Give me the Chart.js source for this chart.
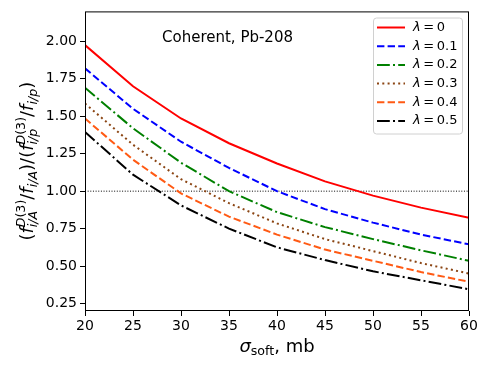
<!DOCTYPE html>
<html>
<head>
<meta charset="utf-8">
<script src="https://cdn.jsdelivr.net/npm/chart.js@4.4.0/dist/chart.umd.min.js"></script>
<style>
  html, body { margin: 0; padding: 0; background: #fff; }
  #wrap { width: 490px; height: 368px; }
</style>
</head>
<body>
<div id="wrap"><canvas id="chart" width="490" height="368"></canvas></div>
<script>
const sigmaSoft = [20, 25, 30, 35, 40, 45, 50, 55, 60];
const lambda00 = [1.975, 1.70, 1.485, 1.32, 1.185, 1.065, 0.97, 0.89, 0.822];
const lambda01 = [1.82, 1.55, 1.33, 1.155, 1.00, 0.88, 0.79, 0.71, 0.645];
const lambda02 = [1.69, 1.42, 1.19, 1.00, 0.86, 0.76, 0.68, 0.605, 0.535];
const lambda03 = [1.585, 1.31, 1.08, 0.92, 0.785, 0.68, 0.60, 0.52, 0.45];
const lambda04 = [1.485, 1.21, 0.985, 0.83, 0.71, 0.61, 0.535, 0.46, 0.395];
const lambda05 = [1.395, 1.11, 0.905, 0.75, 0.625, 0.54, 0.465, 0.405, 0.345];
const lambdaLabels = ['0', '0.1', '0.2', '0.3', '0.4', '0.5'];
const refLevel = [1.0, 1.0];
const refX = [20, 60];
const yTicks = [0.25, 0.50, 0.75, 1.00, 1.25, 1.50, 1.75, 2.00];
const xTicks = [20, 25, 30, 35, 40, 45, 50, 55, 60];
const noteText = 'Coherent, Pb-208';

const FONT = '"DejaVu Sans", "Noto Sans", sans-serif';

const seriesStyle = [
  { color: '#ff0000', dash: [] },
  { color: '#0000ff', dash: [7.4, 3.2] },
  { color: '#008000', dash: [12.8, 3.2, 2, 3.2] },
  { color: '#8b4513', dash: [2, 3.3] },
  { color: '#ff5a14', dash: [7.4, 3.2] },
  { color: '#000000', dash: [12.8, 3.2, 2, 3.2] },
];

const allSeries = [lambda00, lambda01, lambda02, lambda03, lambda04, lambda05];

function toPoints(xs, ys) {
  return xs.map((x, i) => ({ x, y: ys[i] }));
}

const datasets = allSeries.map((values, i) => ({
  label: lambdaLabels[i],
  data: toPoints(sigmaSoft, values),
  borderColor: seriesStyle[i].color,
  borderDash: seriesStyle[i].dash,
  borderWidth: 2,
  borderCapStyle: 'butt',
  pointRadius: 0,
  tension: 0,
  fill: false,
}));

datasets.push({
  label: 'ref',
  data: toPoints(refX, refLevel),
  borderColor: '#000000',
  borderDash: [1, 1.65],
  borderWidth: 1,
  pointRadius: 0,
  fill: false,
});

// small mathtext-like renderer: pieces are {t, it} or {sup:[...], sub:[...]}
function drawRun(ctx, run, x, y, size, draw) {
  const x0 = x;
  run.forEach((p) => {
    if (p.t !== undefined) {
      ctx.font = `${p.it ? 'italic ' : ''}${size}px ${FONT}`;
      if (draw) ctx.fillText(p.t, x, y);
      x += ctx.measureText(p.t).width;
    } else {
      const s = size * 0.7;
      const w1 = p.sup ? drawRun(ctx, p.sup, x, y - size * 0.45, s, draw) : 0;
      const w2 = p.sub ? drawRun(ctx, p.sub, x, y + size * 0.22, s, draw) : 0;
      x += Math.max(w1, w2);
    }
  });
  return x - x0;
}

const supD3 = [{ t: 'D', it: true }, { t: '(3)' }];
const yTitle = [
  { t: '(' }, { t: 'f', it: true }, { sup: supD3, sub: [{ t: 'i/A', it: true }] },
  { t: '/' }, { t: 'f', it: true }, { sub: [{ t: 'i/A', it: true }] }, { t: ')' },
  { t: '/' },
  { t: '(' }, { t: 'f', it: true }, { sup: supD3, sub: [{ t: 'i/p', it: true }] },
  { t: '/' }, { t: 'f', it: true }, { sub: [{ t: 'i/p', it: true }] }, { t: ')' },
];
const xTitle = [
  { t: '\u03c3', it: true }, { sub: [{ t: 'soft' }] }, { t: ', mb' },
];

const decorPlugin = {
  id: 'decor',
  afterDraw(chart) {
    const ctx = chart.ctx;
    const a = chart.chartArea;
    ctx.save();
    ctx.fillStyle = '#000';
    ctx.textBaseline = 'alphabetic';
    ctx.textAlign = 'left';

    // frame
    ctx.strokeStyle = '#000';
    ctx.lineWidth = 1;
    ctx.setLineDash([]);
    ctx.strokeRect(a.left + 0.5, a.top + 0.5, a.right - a.left - 1, a.bottom - a.top - 1);

    // annotation
    ctx.font = `15px ${FONT}`;
    ctx.fillText(noteText, 162, 41.5);

    // x title
    const xs = 18;
    const xw = drawRun(ctx, xTitle, 0, 0, xs, false);
    drawRun(ctx, xTitle, (a.left + a.right) / 2 - xw / 2, 351.5, xs, true);

    // y title
    const ys = 18;
    const yw = drawRun(ctx, yTitle, 0, 0, ys, false);
    ctx.save();
    ctx.translate(33, (a.top + a.bottom) / 2);
    ctx.rotate(-Math.PI / 2);
    drawRun(ctx, yTitle, -yw / 2, 0, ys, true);
    ctx.restore();

    // legend
    const bx = 373.5, by = 18, bw = 89, bh = 116, r = 3;
    ctx.beginPath();
    ctx.moveTo(bx + r, by);
    ctx.arcTo(bx + bw, by, bx + bw, by + bh, r);
    ctx.arcTo(bx + bw, by + bh, bx, by + bh, r);
    ctx.arcTo(bx, by + bh, bx, by, r);
    ctx.arcTo(bx, by, bx + bw, by, r);
    ctx.closePath();
    ctx.fillStyle = 'rgba(255,255,255,0.8)';
    ctx.fill();
    ctx.strokeStyle = '#d0d0d0';
    ctx.lineWidth = 1;
    ctx.stroke();

    const ls = 13;
    lambdaLabels.forEach((lab, i) => {
      const cy = 27.5 + i * 18.7;
      ctx.beginPath();
      ctx.strokeStyle = seriesStyle[i].color;
      ctx.lineWidth = 2;
      ctx.lineCap = 'butt';
      ctx.setLineDash(seriesStyle[i].dash);
      ctx.moveTo(377, cy);
      ctx.lineTo(405, cy);
      ctx.stroke();
      ctx.setLineDash([]);
      ctx.fillStyle = '#000';
      ctx.textBaseline = 'middle';
      let tx = 413;
      ctx.font = `italic ${ls}px ${FONT}`;
      ctx.fillText('\u03bb', tx, cy);
      tx += ctx.measureText('\u03bb').width + ls * 0.2;
      ctx.font = `${ls}px ${FONT}`;
      ctx.fillText('=', tx, cy);
      tx += ctx.measureText('=').width + ls * 0.2;
      ctx.fillText(lab, tx, cy);
    });
    ctx.restore();
  },
};

new Chart(document.getElementById('chart'), {
  type: 'line',
  data: { datasets },
  plugins: [decorPlugin],
  options: {
    responsive: false,
    animation: false,
    events: [],
    layout: { padding: { left: 0, right: 21, top: 11, bottom: 0 } },
    plugins: {
      legend: { display: false },
      tooltip: { enabled: false },
    },
    scales: {
      x: {
        type: 'linear',
        min: 20,
        max: 60,
        afterBuildTicks: (scale) => { scale.ticks = xTicks.map((v) => ({ value: v })); },
        afterFit: (scale) => { scale.height = 57; },
        ticks: {
          color: '#000',
          font: { family: FONT, size: 14 },
          padding: 2,
          maxRotation: 0,
          callback: (v) => String(v),
        },
        grid: {
          drawOnChartArea: false,
          drawTicks: true,
          tickLength: 5,
          tickColor: '#000',
        },
        border: { display: false },
      },
      y: {
        min: 0.2,
        max: 2.2,
        afterBuildTicks: (scale) => { scale.ticks = yTicks.map((v) => ({ value: v })); },
        afterFit: (scale) => { scale.width = 85; },
        ticks: {
          color: '#000',
          font: { family: FONT, size: 14 },
          padding: 3,
          callback: (v) => Number(v).toFixed(2),
        },
        grid: {
          drawOnChartArea: false,
          drawTicks: true,
          tickLength: 5,
          tickColor: '#000',
        },
        border: { display: false },
      },
    },
  },
});
</script>
</body>
</html>
